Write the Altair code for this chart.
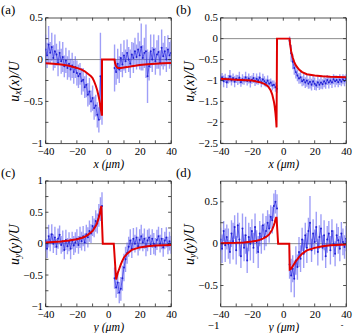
import altair as alt
import pandas as pd

FONT = "Liberation Serif"

# x positions (micrometres) of the measured points, left and right of the particle
XL = [-40, -39, -38, -37, -36, -35, -34, -33, -32, -31, -30, -29, -28, -27, -26, -25, -24, -23, -22, -21,
      -20, -19, -18, -17, -16, -15, -14, -13, -12, -11, -10, -9, -8, -7, -6, -5, -4]
XR = [4, 5, 6, 7, 8, 9, 10, 11, 12, 13, 14, 15, 16, 17, 18, 19, 20, 21, 22, 23, 24,
      25, 26, 27, 28, 29, 30, 31, 32, 33, 34, 35, 36, 37, 38, 39, 40]

X_LABELS = [-40, -20, 0, 20, 40]
X_TICKS = [-40, -30, -20, -10, 0, 10, 20, 30, 40]

# ---- panel (a): u_x(x)/U, first case
A_L = [0.12, 0.05, 0.18, 0.08, 0.15, 0.02, 0.10, 0.06, -0.04, 0.08, -0.02, 0.03, -0.08, -0.01, -0.10, -0.05,
       -0.12, -0.07, -0.15, -0.09, -0.16, -0.20, -0.17, -0.26, -0.24, -0.33, -0.30, -0.42, -0.38, -0.50, -0.46,
       -0.58, -0.55, -0.66, -0.72, -0.20, -0.63]
A_L_ERR = [0.18, 0.15, 0.22, 0.13, 0.17, 0.15, 0.20, 0.13, 0.16, 0.14, 0.15, 0.18, 0.13, 0.15, 0.14, 0.16,
           0.13, 0.15, 0.14, 0.13, 0.15, 0.14, 0.13, 0.16, 0.14, 0.13, 0.15, 0.14, 0.16, 0.13, 0.15, 0.14,
           0.13, 0.15, 0.15, 0.52, 0.15]
A_R = [-0.10, -0.15, -0.05, -0.12, 0.02, -0.06, 0.05, -0.02, 0.08, 0.00, -0.05, 0.06, 0.02, 0.10, 0.03, 0.12,
       0.05, 0.15, 0.02, 0.08, 0.10, -0.20, -0.08, 0.10, 0.00, 0.12, -0.02, 0.06, 0.09, -0.04, 0.14, 0.04,
       0.10, 0.00, 0.12, 0.05, 0.08]
A_R_ERR = [0.28, 0.15, 0.18, 0.16, 0.17, 0.15, 0.18, 0.14, 0.16, 0.15, 0.17, 0.15, 0.18, 0.16, 0.15, 0.20,
           0.17, 0.28, 0.15, 0.18, 0.32, 0.32, 0.17, 0.20, 0.15, 0.18, 0.16, 0.17, 0.20, 0.15, 0.22, 0.16,
           0.18, 0.15, 0.17, 0.16, 0.15]
A_RX = [-40, -35, -30, -25, -20, -17, -15, -13, -11, -10, -9, -8, -7, -6, -5.5, -5, -4.5, -4.2, -4, -4,
        4, 4.3, 5, 6, 7, 8, 10, 12, 15, 20, 25, 30, 35, 40]
A_RY = [-0.045, -0.05, -0.06, -0.075, -0.1, -0.12, -0.14, -0.17, -0.2, -0.22, -0.26, -0.31, -0.37, -0.45,
        -0.5, -0.56, -0.62, -0.66, -0.66, 0, 0, -0.04, -0.08, -0.1, -0.1, -0.1, -0.095, -0.09, -0.08,
        -0.065, -0.055, -0.05, -0.045, -0.04]

# ---- panel (b): u_x(x)/U, second case
B_L = [-0.98, -0.92, -1.02, -0.95, -1.05, -0.97, -0.90, -1.00, -0.94, -1.03, -0.96, -0.99, -0.93, -1.04,
       -0.97, -1.00, -0.92, -1.01, -0.95, -1.03, -0.98, -0.94, -1.02, -0.96, -1.00, -0.93, -1.05, -0.97,
       -1.02, -1.06, -1.00, -1.08, -1.05, -1.12, -1.10, -1.16, -1.20]
B_L_ERR = [0.12, 0.10, 0.14, 0.11, 0.13, 0.10, 0.15, 0.12, 0.11, 0.13, 0.10, 0.12, 0.14, 0.11, 0.12, 0.10,
           0.13, 0.11, 0.12, 0.14, 0.10, 0.12, 0.11, 0.13, 0.10, 0.12, 0.11, 0.13, 0.12, 0.10, 0.12, 0.11,
           0.10, 0.12, 0.10, 0.11, 0.10]
B_R = [-0.05, -0.35, -0.55, -0.70, -0.80, -0.88, -0.95, -0.92, -1.02, -0.98, -1.05, -1.00, -1.08, -1.03,
       -1.10, -1.02, -1.08, -1.12, -1.04, -1.10, -1.05, -1.09, -1.02, -1.07, -0.99, -1.05, -1.00, -1.05,
       -0.97, -1.02, -0.99, -1.04, -0.98, -1.03, -0.97, -1.01, -0.96]
B_R_ERR = [0.10, 0.20, 0.18, 0.16, 0.15, 0.14, 0.13, 0.15, 0.12, 0.14, 0.13, 0.15, 0.12, 0.16, 0.14, 0.13,
           0.15, 0.12, 0.14, 0.13, 0.15, 0.12, 0.14, 0.13, 0.12, 0.14, 0.11, 0.13, 0.12, 0.14, 0.11, 0.12,
           0.13, 0.11, 0.12, 0.13, 0.11]
B_RX = [-40, -30, -20, -15, -12, -10, -9, -8, -7, -6, -5.5, -5, -4.6, -4.3, -4, 4, 4.3, 5, 6, 7, 8, 10, 12,
        15, 20, 25, 30, 40]
B_RY = [-0.96, -0.98, -1.0, -1.04, -1.08, -1.13, -1.18, -1.24, -1.34, -1.5, -1.62, -1.78, -1.95, -2.12, 0,
        0, -0.12, -0.3, -0.45, -0.56, -0.64, -0.74, -0.8, -0.85, -0.88, -0.9, -0.91, -0.92]

# ---- panel (c): u_y(y)/U, first case
C_L = [0.05, -0.08, 0.12, 0.02, 0.15, 0.00, 0.10, -0.05, 0.08, 0.14, -0.02, 0.04, -0.10, 0.06, -0.04, 0.03,
       -0.08, 0.05, -0.03, 0.02, 0.08, -0.02, 0.10, 0.04, 0.12, 0.02, 0.15, 0.10, 0.20, 0.16, 0.28, 0.25,
       0.36, 0.32, 0.45, 0.55, 0.60]
C_L_ERR = [0.17, 0.15, 0.18, 0.14, 0.16, 0.15, 0.17, 0.13, 0.16, 0.15, 0.14, 0.17, 0.15, 0.16, 0.13, 0.15,
           0.17, 0.14, 0.15, 0.16, 0.15, 0.14, 0.17, 0.15, 0.16, 0.14, 0.15, 0.16, 0.17, 0.15, 0.16, 0.15,
           0.17, 0.16, 0.18, 0.19, 0.22]
C_R = [-0.55, -0.70, -0.62, -0.78, -0.72, -0.55, -0.38, -0.25, -0.15, -0.05, 0.05, -0.08, 0.08, 0.00, 0.10,
       -0.04, 0.06, 0.12, 0.02, 0.08, -0.05, 0.05, 0.10, -0.02, 0.08, 0.00, -0.05, 0.06, 0.12, 0.00, 0.08,
       -0.06, 0.05, 0.10, -0.03, 0.04, -0.02]
C_R_ERR = [0.17, 0.16, 0.18, 0.17, 0.19, 0.20, 0.22, 0.20, 0.17, 0.16, 0.18, 0.15, 0.17, 0.14, 0.16, 0.15,
           0.17, 0.18, 0.14, 0.16, 0.15, 0.17, 0.14, 0.16, 0.15, 0.17, 0.14, 0.16, 0.15, 0.14, 0.17, 0.15,
           0.14, 0.16, 0.14, 0.15, 0.14]
C_RX = [-40, -30, -25, -20, -17, -15, -13, -11, -10, -9, -8, -7, -6, -5.5, -5, -4.6, -4.4, -3.5, 3.5, 5, 5.5,
        6, 7, 8, 9, 10, 12, 15, 20, 25, 30, 40]
C_RY = [0.02, 0.035, 0.05, 0.07, 0.09, 0.11, 0.14, 0.18, 0.2, 0.24, 0.28, 0.34, 0.42, 0.47, 0.53, 0.58, 0.6,
        0, 0, -0.57, -0.52, -0.47, -0.4, -0.33, -0.27, -0.22, -0.16, -0.1, -0.06, -0.04, -0.03, -0.02]

# ---- panel (d): u_y(y)/U, second case
D_L = [0.05, -0.06, 0.15, -0.02, 0.08, 0.00, -0.10, 0.12, 0.03, 0.20, -0.08, 0.22, 0.05, -0.15, 0.18, -0.05,
       0.10, -0.20, 0.08, 0.00, 0.15, -0.05, 0.20, 0.02, -0.10, 0.12, 0.05, 0.22, 0.08, 0.15, 0.25, 0.18,
       0.32, 0.28, 0.45, 0.50, 0.42]
D_L_ERR = [0.14, 0.17, 0.12, 0.20, 0.15, 0.18, 0.14, 0.16, 0.22, 0.14, 0.17, 0.15, 0.20, 0.14, 0.18, 0.16,
           0.22, 0.15, 0.17, 0.20, 0.14, 0.18, 0.16, 0.14, 0.19, 0.15, 0.17, 0.14, 0.16, 0.18, 0.15, 0.17,
           0.14, 0.16, 0.15, 0.14, 0.17]
D_R = [-0.25, -0.38, -0.30, -0.42, -0.20, -0.28, -0.10, -0.18, 0.05, -0.12, 0.10, -0.05, 0.15, 0.25, -0.08,
       0.12, 0.02, 0.20, -0.10, 0.08, 0.18, -0.05, 0.10, -0.15, 0.05, 0.12, -0.08, 0.15, 0.00, -0.12, 0.10,
       0.04, -0.06, 0.12, 0.02, -0.04, 0.06]
D_R_ERR = [0.17, 0.20, 0.16, 0.22, 0.17, 0.15, 0.18, 0.16, 0.14, 0.17, 0.15, 0.18, 0.16, 0.32, 0.14, 0.17,
           0.15, 0.18, 0.16, 0.14, 0.17, 0.15, 0.18, 0.14, 0.16, 0.15, 0.17, 0.14, 0.16, 0.15, 0.14, 0.16,
           0.15, 0.14, 0.16, 0.14, 0.15]
D_RX = [-40, -30, -25, -20, -17, -15, -13, -11, -10, -9, -8, -7, -6, -5.5, -5, -4.6, -4.3, -3.3, 3.8, 4.1,
        5, 6, 7, 8, 10, 12, 15, 20, 25, 30, 40]
D_RY = [0.005, 0.01, 0.015, 0.025, 0.035, 0.045, 0.06, 0.08, 0.095, 0.11, 0.14, 0.17, 0.22, 0.25, 0.29,
        0.31, 0.31, 0, 0, -0.31, -0.3, -0.27, -0.24, -0.21, -0.16, -0.12, -0.08, -0.05, -0.03, -0.02, -0.01]

W = 127
H = 127
LABEL_EXPR = "replace(toString(datum.value), '-', '\u2212')"


def txt(s, x, y, size, style="normal", angle=0, align="left", baseline="middle"):
    return alt.Chart(pd.DataFrame({"t": [s]})).mark_text(
        font=FONT, fontSize=size, fontStyle=style, angle=angle, align=align,
        baseline=baseline, color="black"
    ).encode(x=alt.value(x), y=alt.value(y), text="t:N")


def panel(tag, var, lv, le, rv, re, rx, ry, ydom, ylabels, yticks, extras=()):
    pts = pd.DataFrame({
        "x": XL + XR,
        "y": lv + rv,
        "e": le + re,
        "side": ["L"] * len(XL) + ["R"] * len(XR),
    })
    pts["lo"] = pts["y"] - pts["e"]
    pts["hi"] = pts["y"] + pts["e"]
    red = pd.DataFrame({"x": rx, "y": ry, "i": list(range(len(rx)))})

    xs = alt.Scale(domain=[-40, 40], nice=False, zero=False)
    ys = alt.Scale(domain=ydom, nice=False, zero=False)
    xaxis = alt.Axis(values=X_LABELS, title=f"{var} (μm)", titleFontStyle="italic",
                     labelPadding=2, titlePadding=2, labelExpr=LABEL_EXPR, labelFlush=False)
    yaxis = alt.Axis(values=ylabels, title=None, labelExpr=LABEL_EXPR, labelPadding=3)
    X = alt.X("x:Q", scale=xs, axis=xaxis)

    zero = alt.Chart(pd.DataFrame({"y": [0]})).mark_rule(color="#8c8c8c", strokeWidth=1).encode(
        y=alt.Y("y:Q", scale=ys, axis=yaxis))
    bars = alt.Chart(pts).mark_rule(color="#4e4ef0", opacity=0.55, strokeWidth=1.4, clip=True).encode(
        x=X, y=alt.Y("lo:Q", scale=ys, axis=yaxis), y2="hi:Q")
    conn = alt.Chart(pts).mark_line(color="#2f2fe2", strokeWidth=0.8, opacity=0.9, clip=True).encode(
        x=X, y=alt.Y("y:Q", scale=ys, axis=yaxis), detail="side:N")
    dots = alt.Chart(pts).mark_circle(color="#1c1cd2", size=4, opacity=0.95, clip=True).encode(
        x=X, y=alt.Y("y:Q", scale=ys, axis=yaxis))
    redl = alt.Chart(red).mark_line(color="#e00000", strokeWidth=2, clip=True).encode(
        x=X, y=alt.Y("y:Q", scale=ys, axis=yaxis), order="i:Q")

    xt = pd.DataFrame({"x": X_TICKS})
    yt = pd.DataFrame({"y": yticks})
    tk = dict(color="#222222", strokeWidth=0.8)
    xt_b = alt.Chart(xt).mark_rule(**tk).encode(x=X, y=alt.value(H - 3), y2=alt.value(H))
    xt_t = alt.Chart(xt).mark_rule(**tk).encode(x=X, y=alt.value(0), y2=alt.value(3))
    yt_l = alt.Chart(yt).mark_rule(**tk).encode(
        y=alt.Y("y:Q", scale=ys, axis=yaxis), x=alt.value(0), x2=alt.value(3))
    yt_r = alt.Chart(yt).mark_rule(**tk).encode(
        y=alt.Y("y:Q", scale=ys, axis=yaxis), x=alt.value(W - 3), x2=alt.value(W))

    lab = txt(f"({tag})", -45, -4, 13, baseline="alphabetic")
    t1 = txt("u", -31, 85, 14, "italic", angle=270)
    t2 = txt(var, -27.5, 78, 10, "italic", angle=270)
    t3 = txt(f"({var})/U", -31, 73.5, 14, "italic", angle=270)

    layers = [zero, bars, conn, dots, redl, xt_b, xt_t, yt_l, yt_r, lab, t1, t2, t3] + list(extras)
    return alt.layer(*layers).properties(width=W, height=H)


pa = panel("a", "x", A_L, A_L_ERR, A_R, A_R_ERR, A_RX, A_RY, [-1, 0.5],
           [-1, -0.5, 0, 0.5], [-1, -0.75, -0.5, -0.25, 0, 0.25, 0.5])
pb = panel("b", "x", B_L, B_L_ERR, B_R, B_R_ERR, B_RX, B_RY, [-2.5, 0.5],
           [-2.5, -2, -1.5, -1, -0.5, 0, 0.5], [-2.5, -2, -1.5, -1, -0.5, 0, 0.5])
pc = panel("c", "y", C_L, C_L_ERR, C_R, C_R_ERR, C_RX, C_RY, [-1, 1],
           [-1, -0.5, 0, 0.5, 1], [-1, -0.75, -0.5, -0.25, 0, 0.25, 0.5, 0.75, 1])
pd_ = panel("d", "y", D_L, D_L_ERR, D_R, D_R_ERR, D_RX, D_RY, [-0.75, 0.75],
            [-0.5, 0, 0.5], [-0.5, -0.25, 0, 0.25, 0.5],
            extras=[txt("\u22121", -7, 147, 11, align="center"), txt("-", 123, 147, 8, align="center")])

chart = alt.concat(pa, pb, pc, pd_, columns=2, spacing={"row": 38, "column": 50}, bounds="flush").properties(
    padding={"left": 0, "top": 1, "right": 2, "bottom": 2}
).configure_view(stroke="#222222", strokeWidth=0.8).configure_axis(
    labelFont=FONT, titleFont=FONT, labelFontSize=11, titleFontSize=12, labelColor="black",
    titleColor="black", titleFontWeight="normal", ticks=False, domain=False, grid=False
)

chart.save("out.html", embed_options={"renderer": "svg", "actions": False})
